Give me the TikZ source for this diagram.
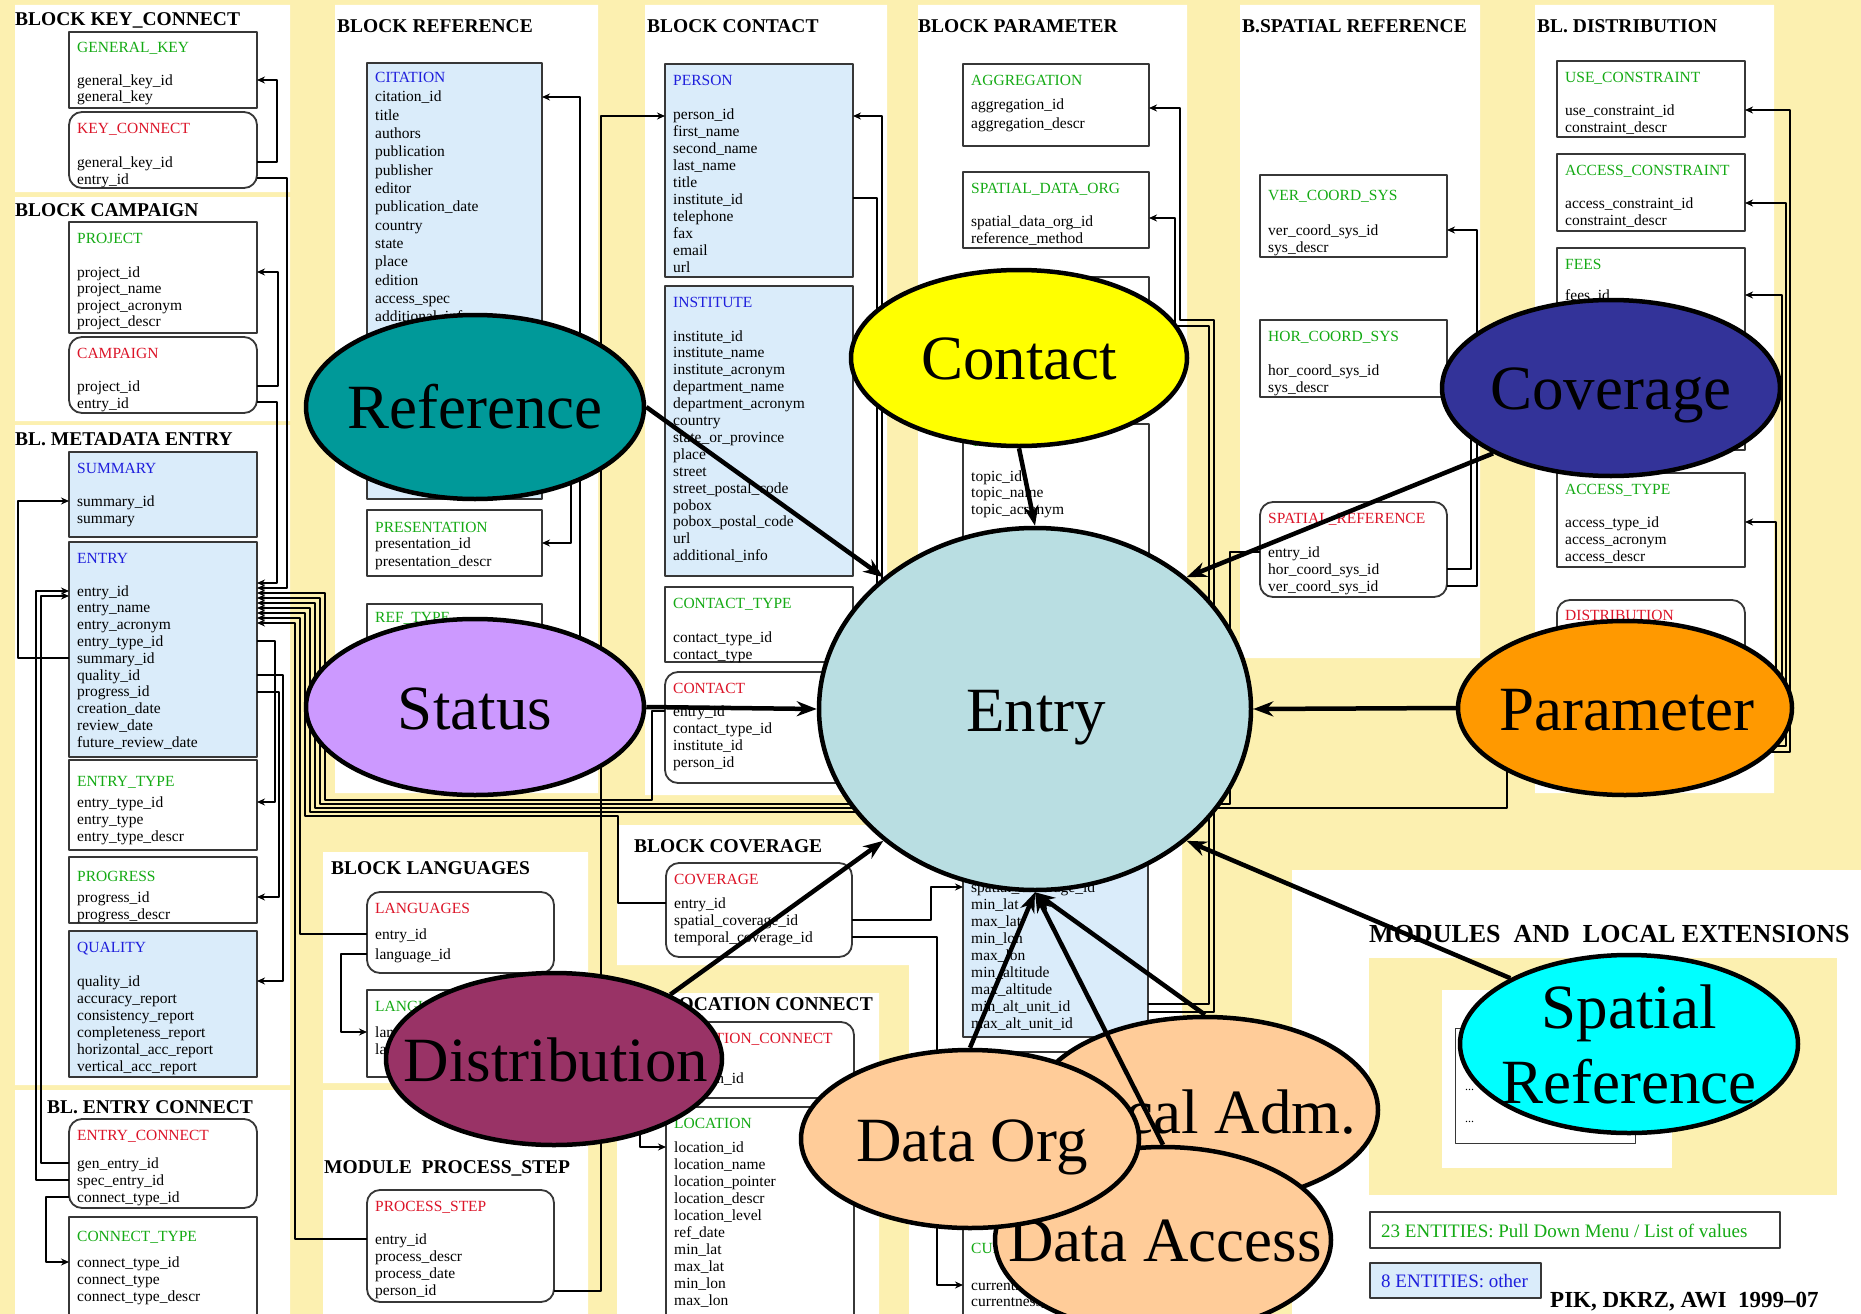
\documentclass[tikz,border=0pt]{standalone}
\usepackage{fontspec}
\setmainfont{Liberation Serif}
\usetikzlibrary{shapes.geometric,arrows.meta}

\definecolor{bgyellow}{RGB}{252,240,176}
\definecolor{tblblue}{RGB}{218,236,250}
\definecolor{hdG}{RGB}{20,170,20}
\definecolor{hdR}{RGB}{220,20,40}
\definecolor{hdB}{RGB}{30,30,220}
\definecolor{rimgray}{RGB}{55,55,55}
\definecolor{cRef}{RGB}{0,153,153}
\definecolor{cContact}{RGB}{255,255,0}
\definecolor{cCov}{RGB}{51,51,153}
\definecolor{cStatus}{RGB}{204,153,255}
\definecolor{cEntry}{RGB}{185,222,226}
\definecolor{cParam}{RGB}{255,153,0}
\definecolor{cDist}{RGB}{153,51,102}
\definecolor{cPeach}{RGB}{255,204,153}
\definecolor{cSpat}{RGB}{0,255,255}

\newcommand\fldfont{\fontsize{15.5}{17}\selectfont}
\newcommand\blkfont{\fontsize{19.5}{22}\selectfont\bfseries}
\newcommand\bigfont{\fontsize{63}{70}\selectfont}
\newcommand\hdoff{21}
\newcommand\fstep{17}

\tikzset{
  boxG/.style={draw=rimgray, line width=1.8pt, fill=white, inner sep=0pt, outer sep=0pt},
  boxR/.style={boxG, rounded corners=13pt},
  boxB/.style={boxG, fill=tblblue},
  hdr/.style={font=\fldfont, inner sep=0pt},
  fld/.style={font=\fldfont, inner sep=0pt, text=black},
  blk/.style={font=\blkfont, inner sep=0pt, anchor=base west},
  fk/.style={draw=black, line width=1.5pt, -{Stealth[length=8pt,width=7pt]}},
  fkline/.style={draw=black, line width=1.5pt},
  bubble/.style={ellipse, draw=black, line width=4.5pt, inner sep=0pt},
  bubtxt/.style={font=\bigfont, inner sep=0pt, anchor=base},
  bigarrow/.style={draw=black, line width=4.5pt, -{Stealth[length=20pt,width=15pt]}},
}

% \dbtable{name}{kind G/R/B}{x1}{y1}{x2}{y2}{header}{first field baseline}{fields}
\newcommand\dbtable[9]{%
  \node[box#2, anchor=north west, minimum width=#5-#3, minimum height=#6-#4] (#1) at (#3,#4) {};
  \node[hdr, text=hd#2, anchor=base west] (#1-h) at (#3+8,#4+\hdoff) {#7};
  \foreach \f [count=\i from 0] in {#9} {
    \node[fld, anchor=base west] (#1-\i) at (#3+8,#8+\fstep*\i) {\f};
  }%
}

\begin{document}
\begin{tikzpicture}[x=1pt, y=-1pt, line join=round]
\useasboundingbox (0,0) rectangle (1861,1314);

% ---------- background and block panels ----------
\fill[bgyellow] (0,0) rectangle (1861,1314);
\fill[white] (15,5) rectangle (290,192)
  (15,197) rectangle (290,421)
  (15,425) rectangle (290,1085)
  (15,1090) rectangle (290,1314)
  (335,5) rectangle (598,793)
  (645,5) rectangle (887,795)
  (918,5) rectangle (1187,795)
  (1240,5) rectangle (1480,658)
  (1535,5) rectangle (1774,793)
  (323,852) rectangle (588,1083)
  (323,1090) rectangle (588,1314)
  (617,825) rectangle (1182,965)
  (617,993) rectangle (879,1314)
  (909,825) rectangle (1182,1314)
  (1292,870) rectangle (1861,1314);
\fill[bgyellow] (1369,958) rectangle (1837,1195);
\fill[white] (1442,990) rectangle (1672,1168);

% ---------- block titles ----------
\node[blk] (hKC) at (15,26) {BLOCK KEY\_CONNECT};
\node[blk] (hCA) at (15,216) {BLOCK CAMPAIGN};
\node[blk] (hME) at (15,445) {BL. METADATA ENTRY};
\node[blk] (hEC) at (47,1113) {BL. ENTRY CONNECT};
\node[blk] (hRE) at (337,33) {BLOCK REFERENCE};
\node[blk] (hCO) at (647,33) {BLOCK CONTACT};
\node[blk] (hPA) at (918,33) {BLOCK PARAMETER};
\node[blk] (hSR) at (1242,33) {B.SPATIAL REFERENCE};
\node[blk] (hDI) at (1537,33) {BL. DISTRIBUTION};
\node[blk] (hLA) at (331,874) {BLOCK LANGUAGES};
\node[blk] (hPS) at (324,1173) {MODULE\ \ PROCESS\_STEP};
\node[blk] (hCV) at (634,852) {BLOCK COVERAGE};
\node[blk, anchor=base east] (hLC) at (873,1010) {LOCATION CONNECT};
\node[font=\fontsize{26}{28}\selectfont\bfseries, anchor=base west, inner sep=0pt] (hMO) at (1369,942) {MODULES\ \ AND\ \ LOCAL EXTENSIONS};

% ---------- metadata tables: left column ----------
\dbtable{tGK}{G}{69}{32}{257}{108}{GENERAL\_KEY}{85}{general\_key\_id, general\_key}
\dbtable{tKC}{R}{69}{112}{257}{188}{KEY\_CONNECT}{167}{general\_key\_id, entry\_id}
\begin{scope}\renewcommand\fstep{16.5}
\dbtable{tPJ}{G}{69}{222}{257}{333}{PROJECT}{277}{project\_id, project\_name, project\_acronym, project\_descr}
\end{scope}
\dbtable{tCA}{R}{69}{337}{257}{413}{CAMPAIGN}{391}{project\_id, entry\_id}
\dbtable{tSU}{B}{69}{452}{257}{537}{SUMMARY}{506}{summary\_id, summary}
\begin{scope}\renewcommand\fstep{16.8}
\dbtable{tEN}{B}{69}{542}{257}{757}{ENTRY}{596}{entry\_id, entry\_name, entry\_acronym, entry\_type\_id, summary\_id, quality\_id, progress\_id, creation\_date, review\_date, future\_review\_date}
\end{scope}
\begin{scope}\renewcommand\hdoff{26}
\dbtable{tET}{G}{69}{760}{257}{850}{ENTRY\_TYPE}{807}{entry\_type\_id, entry\_type, entry\_type\_descr}
\end{scope}
\begin{scope}\renewcommand\hdoff{24}
\dbtable{tPG}{G}{69}{857}{257}{923}{PROGRESS}{902}{progress\_id, progress\_descr}
\end{scope}
\dbtable{tQU}{B}{69}{931}{257}{1077}{QUALITY}{986}{quality\_id, accuracy\_report, consistency\_report, completeness\_report, horizontal\_acc\_report, vertical\_acc\_report}
\dbtable{tEC}{R}{69}{1119}{257}{1208}{ENTRY\_CONNECT}{1168}{gen\_entry\_id, spec\_entry\_id, connect\_type\_id}
\begin{scope}\renewcommand\hdoff{24}
\dbtable{tCT}{G}{69}{1217}{257}{1330}{CONNECT\_TYPE}{1267}{connect\_type\_id, connect\_type, connect\_type\_descr}
\end{scope}

% ---------- reference block ----------
\begin{scope}\renewcommand\hdoff{20}\renewcommand\fstep{18.3}
\dbtable{tCI}{B}{367}{63}{542}{499}{CITATION}{102}{citation\_id, title, authors, publication, publisher, editor, publication\_date, country, state, place, edition, access\_spec, additional\_info}
\end{scope}
\node[fld, anchor=base west] (tCI-x) at (375,483) {citation\_id};
\begin{scope}\renewcommand\hdoff{22}\renewcommand\fstep{18.5}
\dbtable{tPR}{G}{367}{510}{542}{576}{PRESENTATION}{548}{presentation\_id, presentation\_descr}
\end{scope}
\node[boxG, anchor=north west, minimum width=175, minimum height=116] (tRT) at (367,604) {};
\node[hdr, text=hdG, anchor=base west] (tRT-h) at (375,622) {REF\_TYPE};

% ---------- contact block ----------
\dbtable{tPE}{B}{665}{64}{853}{277}{PERSON}{119}{person\_id, first\_name, second\_name, last\_name, title, institute\_id, telephone, fax, email, url}
\begin{scope}\renewcommand\fstep{16.9}
\dbtable{tIN}{B}{665}{286}{853}{576}{INSTITUTE}{341}{institute\_id, institute\_name, institute\_acronym, department\_name, department\_acronym, country, state\_or\_province, place, street, street\_postal\_code, pobox, pobox\_postal\_code, url, additional\_info}
\end{scope}
\dbtable{tCY}{G}{665}{587}{853}{662}{CONTACT\_TYPE}{642}{contact\_type\_id, contact\_type}
\dbtable{tCN}{R}{665}{672}{853}{783}{CONTACT}{716}{entry\_id, contact\_type\_id, institute\_id, person\_id}

% ---------- parameter block ----------
\begin{scope}\renewcommand\fstep{18}
\dbtable{tAG}{G}{963}{64}{1149}{146}{AGGREGATION}{110}{aggregation\_id, aggregation\_descr}
\end{scope}
\dbtable{tSD}{G}{963}{172}{1149}{248}{SPATIAL\_DATA\_ORG}{226}{spatial\_data\_org\_id, reference\_method}
\node[boxG, anchor=north west, minimum width=186, minimum height=133] (tHB) at (963,277) {};
\begin{scope}\renewcommand\hdoff{22}\renewcommand\fstep{16.5}
\dbtable{tTO}{G}{963}{424}{1149}{570}{TOPIC}{481}{topic\_id, topic\_name, topic\_acronym}
\end{scope}

% ---------- coverage, languages, process step, location ----------
\dbtable{tCV}{R}{666}{863}{852}{957}{COVERAGE}{908}{entry\_id, spatial\_coverage\_id, temporal\_coverage\_id}
\dbtable{tSC}{B}{963}{850}{1148}{1037}{SPATIAL\_COVERAGE}{892}{spatial\_coverage\_id, min\_lat, max\_lat, min\_lon, max\_lon, min\_altitude, max\_altitude, min\_alt\_unit\_id, max\_alt\_unit\_id}
\node[boxG, anchor=north west, minimum width=185, minimum height=163] (tTC) at (963,1052) {};
\begin{scope}\renewcommand\hdoff{25}\renewcommand\fstep{16}
\dbtable{tCR}{G}{963}{1228}{1148}{1330}{CURRENTNESS}{1290}{currentness\_id, currentness\_descr}
\end{scope}
\begin{scope}\renewcommand\fstep{20}
\dbtable{tLG}{R}{367}{892}{554}{973}{LANGUAGES}{939}{entry\_id, language\_id}
\end{scope}
\dbtable{tLN}{G}{367}{990}{554}{1077}{LANGUAGE}{1037}{language\_id, language}
\dbtable{tPS}{R}{367}{1190}{554}{1302}{PROCESS\_STEP}{1244}{entry\_id, process\_descr, process\_date, person\_id}
\dbtable{tLC}{R}{666}{1022}{854}{1098}{LOCATION\_CONNECT}{1083}{location\_id}
\dbtable{tLO}{G}{666}{1107}{854}{1330}{LOCATION}{1152}{location\_id, location\_name, location\_pointer, location\_descr, location\_level, ref\_date, min\_lat, max\_lat, min\_lon, max\_lon}

% ---------- spatial reference and distribution ----------
\begin{scope}\renewcommand\hdoff{25}
\dbtable{tVC}{G}{1260}{175}{1447}{257}{VER\_COORD\_SYS}{235}{ver\_coord\_sys\_id, sys\_descr}
\end{scope}
\dbtable{tHC}{G}{1260}{320}{1447}{397}{HOR\_COORD\_SYS}{375}{hor\_coord\_sys\_id, sys\_descr}
\dbtable{tSR}{R}{1260}{502}{1447}{597}{SPATIAL\_REFERENCE}{557}{entry\_id, hor\_coord\_sys\_id, ver\_coord\_sys\_id}
\dbtable{tUC}{G}{1557}{61}{1745}{137}{USE\_CONSTRAINT}{115}{use\_constraint\_id, constraint\_descr}
\dbtable{tAC}{G}{1557}{154}{1745}{231}{ACCESS\_CONSTRAINT}{208}{access\_constraint\_id, constraint\_descr}
\dbtable{tFE}{G}{1557}{248}{1745}{450}{FEES}{300}{fees\_id}
\dbtable{tAT}{G}{1557}{473}{1745}{567}{ACCESS\_TYPE}{527}{access\_type\_id, access\_acronym, access\_descr}
\node[boxR, anchor=north west, minimum width=188, minimum height=175] (tDI) at (1557,600) {};
\node[hdr, text=hdR, anchor=base west] (tDI-h) at (1565,620) {DISTRIBUTION};

% ---------- modules area and legend ----------
\node[draw=rimgray, line width=1.2pt, fill=white, anchor=north west, minimum width=180, minimum height=115, inner sep=0pt] (tMX) at (1455,1028) {};
\node[font=\fontsize{12}{14}\selectfont, anchor=base west, inner sep=0pt] (dotsA) at (1465,1090) {...};
\node[font=\fontsize{12}{14}\selectfont, anchor=base west, inner sep=0pt] (dotsB) at (1465,1122) {...};
\node[draw=rimgray, line width=1.5pt, fill=white, anchor=north west, minimum width=410, minimum height=36, inner sep=0pt] (lgG) at (1369,1211) {};
\node[font=\fontsize{19}{21}\selectfont, text=hdG, anchor=base west, inner sep=0pt] (lgGt) at (1381,1237) {23 ENTITIES: Pull Down Menu / List of values};
\node[draw=rimgray, line width=1.5pt, fill=tblblue, anchor=north west, minimum width=171, minimum height=35, inner sep=0pt] (lgB) at (1369,1262) {};
\node[font=\fontsize{19}{21}\selectfont, text=hdB, anchor=base west, inner sep=0pt] (lgBt) at (1381,1287) {8 ENTITIES: other};
\node[font=\fontsize{23}{25}\selectfont\bfseries, anchor=base west, inner sep=0pt] (credit) at (1550,1307) {PIK, DKRZ, AWI\ \ 1999--07};

% ---------- key links ----------
% left column
\draw[fk] (tKC.east |- 0,162) -- (277,162) -- (277,80) -- (tGK.east |- 0,80);
\draw[fk] (tCA.east |- 0,386) -- (278,386) -- (278,272) -- (tPJ.east |- 0,272);
\draw[fk] (tCA.east |- 0,402) -- (277,402) -- (277,583) -- (tEN.east |- 0,583);
\draw[fk] (tKC.east |- 0,178) -- (287,178) -- (287,588) -- (tEN.east |- 0,588);
\draw[fk] (tEN.east |- 0,641) -- (275,641) -- (275,802) -- (tET.east |- 0,802);
\draw[fk] (tEN.east |- 0,675) -- (283,675) -- (283,981) -- (tQU.east |- 0,981);
\draw[fk] (tEN.east |- 0,692) -- (279,692) -- (279,897) -- (tPG.east |- 0,897);
\draw[fk] (tEN.west |- 0,658) -- (18,658) -- (18,501) -- (tSU.west |- 0,501);
\draw[fk] (tEC.west |- 0,1180) -- (36,1180) -- (36,591) -- (tEN.west |- 0,591);
\draw[fk] (tEC.west |- 0,1163) -- (41,1163) -- (41,596) -- (tEN.west |- 0,596);
\draw[fk] (tEC.west |- 0,1197) -- (46,1197) -- (46,1262) -- (tCT.west |- 0,1262);

% entry_id bundle to the link tables
\coordinate (pmEnd) at (1100,812);
\draw[fk] (tCN.west |- 0,711) -- (652,711) -- (652,800) -- (325,800) -- (325,593) -- (tEN.east |- 0,593);
\draw[fk] (tSR.west |- 0,552) -- (1230,552) -- (1230,804) -- (320,804) -- (320,598) -- (tEN.east |- 0,598);
\draw[fk] (tDI.west |- 0,700) -- (1507,700) -- (1507,808) -- (315,808) -- (315,603) -- (tEN.east |- 0,603);
\draw[fk] (pmEnd) -- (310,812) -- (310,608) -- (tEN.east |- 0,608);
\draw[fk] (tCV.west |- 0,903) -- (618,903) -- (618,816) -- (305,816) -- (305,613) -- (tEN.east |- 0,613);
\draw[fk] (tLG.west |- 0,934) -- (300,934) -- (300,618) -- (tEN.east |- 0,618);
\draw[fk] (tPS.west |- 0,1239) -- (295,1239) -- (295,623) -- (tEN.east |- 0,623);

% reference block
\coordinate (rfA) at (571,440);
\coordinate (rfB) at (580,760);
\draw[fk] (rfA) -- (571,543) -- (tPR.east |- 0,543);
\draw[fk] (rfB) -- (580,97) -- (tCI.east |- 0,97);

% contact block
\coordinate (ctA) at (877,640);
\coordinate (ctB) at (882,640);
\draw[fk] (tPS.east |- 0,1291) -- (601,1291) -- (601,116) -- (tPE.west |- 0,116);
\draw[fkline] (tPE.east |- 0,198) -- (877,198) -- (ctA);
\draw[fk] (ctB) -- (882,116) -- (tPE.east |- 0,116);

% parameter block
\draw[fk] (tSC.east |- 0,1012) -- (1214,1012) -- (1214,320) -- (1180,320) -- (1180,108) -- (tAG.east |- 0,108);
\draw[fk] (tSC.east |- 0,1004) -- (1209,1004) -- (1209,326) -- (1175,326) -- (1175,218) -- (tSD.east |- 0,218);

% coverage, location, languages
\draw[fk] (tCV.east |- 0,920) -- (931,920) -- (931,887) -- (tSC.west |- 0,887);
\draw[fk] (tCV.east |- 0,937) -- (937,937) -- (937,1285) -- (tCR.west |- 0,1285);
\draw[fk] (tLC.west |- 0,1078) -- (640,1078) -- (640,1147) -- (tLO.west |- 0,1147);
\draw[fk] (tLG.west |- 0,954) -- (341,954) -- (341,1032) -- (tLN.west |- 0,1032);

% spatial reference
\draw[fk] (tSR.east |- 0,586) -- (1477,586) -- (1477,230) -- (tVC.east |- 0,230);
\draw[fk] (tSR.east |- 0,569) -- (1471,569) -- (1471,370) -- (tHC.east |- 0,370);

% distribution
\draw[fk] (tDI.east |- 0,752) -- (1790,752) -- (1790,110) -- (tUC.east |- 0,110);
\draw[fk] (tDI.east |- 0,746) -- (1786,746) -- (1786,203) -- (tAC.east |- 0,203);
\draw[fk] (tDI.east |- 0,740) -- (1782,740) -- (1782,295) -- (tFE.east |- 0,295);
\draw[fk] (tDI.east |- 0,734) -- (1776,734) -- (1776,522) -- (tAT.east |- 0,522);

% ---------- module bubbles ----------
\node[bubble, fill=cRef, minimum width=338, minimum height=184] (eRef) at (475,407) {};
\node[bubtxt] (eRefT) at (475,428) {Reference};
\node[bubble, fill=cContact, minimum width=336, minimum height=176] (eCon) at (1019,358) {};
\node[bubtxt] (eConT) at (1019,379) {Contact};
\node[bubble, fill=cCov, minimum width=338, minimum height=176] (eCov) at (1611,388) {};
\node[bubtxt] (eCovT) at (1611,409) {Coverage};
\node[bubble, fill=cStatus, minimum width=338, minimum height=176] (eSta) at (475,707) {};
\node[bubtxt] (eStaT) at (475,729) {Status};
\node[bubble, fill=cEntry, minimum width=432, minimum height=362] (eEnt) at (1035,709) {};
\node[bubtxt] (eEntT) at (1036,731) {Entry};
\node[bubble, fill=cParam, minimum width=334, minimum height=174] (ePar) at (1625,708) {};
\node[bubtxt] (eParT) at (1627,730) {Parameter};
\node[bubble, fill=cDist, minimum width=336, minimum height=172] (eDis) at (554,1059) {};
\node[bubtxt] (eDisT) at (556,1081) {Distribution};
\node[bubble, fill=cSpat, minimum width=338, minimum height=178] (eSpa) at (1629,1044) {};
\node[bubtxt] (eSpaT1) at (1629,1028) {Spatial};
\node[bubtxt] (eSpaT2) at (1629,1103) {Reference};
\node[bubble, fill=cPeach, minimum width=346, minimum height=186] (eLoc) at (1205,1110) {};
\node[bubtxt] (eLocT) at (1206,1133) {Local Adm.};
\node[bubble, fill=cPeach, minimum width=336, minimum height=186] (eAcc) at (1163,1240) {};
\node[bubtxt] (eAccT) at (1165,1261) {Data Access};
\node[bubble, fill=cPeach, minimum width=338, minimum height=178] (eOrg) at (970,1139) {};
\node[bubtxt] (eOrgT) at (972,1161) {Data Org};

% ---------- module links into Entry ----------
\draw[bigarrow] (eRef.east) -- (eEnt.139);
\draw[bigarrow] (eCon.south) -- (eEnt.north);
\draw[bigarrow] (eCov.209) -- (eEnt.41);
\draw[bigarrow] (eSta.east) -- (eEnt.west);
\draw[bigarrow] (ePar.west) -- (eEnt.east);
\draw[bigarrow] (eDis.29) -- (eEnt.221);
\draw[bigarrow] (eSpa.151) -- (eEnt.319);
\draw[bigarrow] (eOrg.north) -- (eEnt.south);
\draw[bigarrow] (eAcc.north) -- (eEnt.south);
\draw[bigarrow] (eLoc.north) -- (eEnt.south);
\end{tikzpicture}
\end{document}
